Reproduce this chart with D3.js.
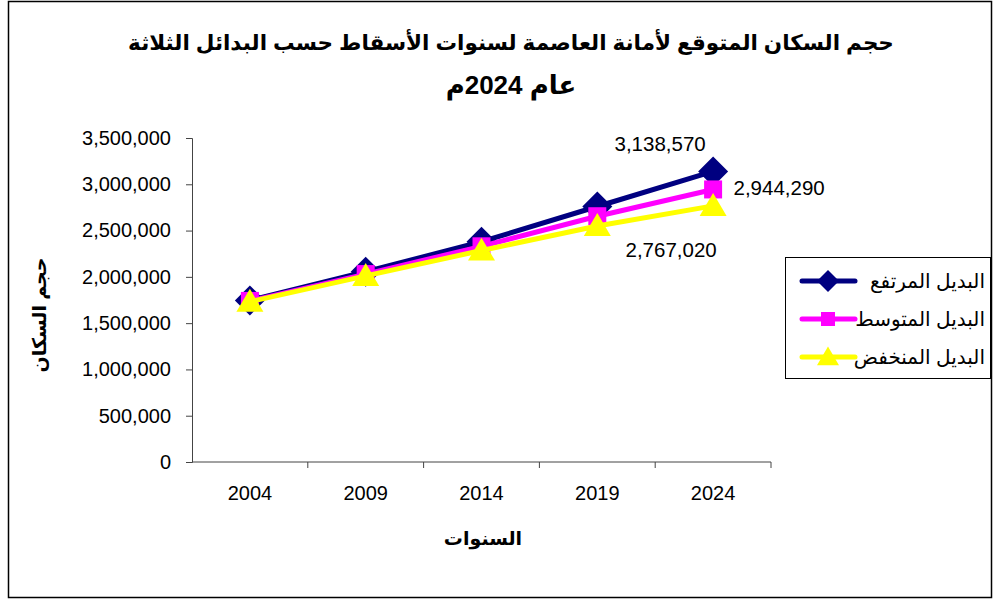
<!DOCTYPE html>
<html>
<head>
<meta charset="utf-8">
<script src="https://cdn.jsdelivr.net/npm/d3@7"></script>
<style>
  body { margin: 0; background: #fff; }
  svg text { font-family: "Liberation Sans", Arial, "DejaVu Sans", sans-serif; }
</style>
</head>
<body>
<div id="container"></div>
<script>
/**
 * DATA
 * */
const years = ["2004", "2009", "2014", "2019", "2024"];
const highValues = [1745000, 2055000, 2380000, 2760000, 3138570];
const midValues = [1740000, 2030000, 2330000, 2655000, 2944290];
const lowValues = [1732000, 2010000, 2285000, 2550000, 2767020];
const seriesNames = ["البديل المرتفع", "البديل المتوسط", "البديل المنخفض"];
const yTicks = [0, 500000, 1000000, 1500000, 2000000, 2500000, 3000000, 3500000];
const titleLines = ["حجم السكان المتوقع لأمانة العاصمة لسنوات الأسقاط حسب البدائل الثلاثة", "عام 2024م"];
const xTitle = "السنوات";
const yTitle = "حجم السكان";

/**
 * CONSTANTS
 * */
const width = 998,
  height = 601,
  plot = { left: 192, right: 771, top: 138, bottom: 462 };

const colors = ["#000080", "#ff00ff", "#ffff00"];

// marker shapes as path generators (r = scale factor)
const diamond = r => `M0,${-r}L${r},0L0,${r}L${-r},0Z`;
const square = r => `M${-r},${-r}H${r}V${r}H${-r}Z`;
const triangle = r => `M0,${-r * 0.95}L${r},${r * 0.75}H${-r}Z`;
const shapes = [diamond, square, triangle];
const plotSizes = [15, 9, 13.5];
const legendSizes = [11, 7, 11];

const series = [highValues, midValues, lowValues].map((vals, i) => ({
  name: seriesNames[i],
  color: colors[i],
  shape: shapes[i],
  size: plotSizes[i],
  lsize: legendSizes[i],
  values: vals.map((v, j) => ({ year: years[j], value: v }))
}));

const svg = d3.select("#container")
  .append("svg")
  .attr("width", width)
  .attr("height", height);

// outer frame
svg.append("rect")
  .attr("x", 8.5).attr("y", 1.5)
  .attr("width", 983).attr("height", 596)
  .attr("fill", "none")
  .attr("stroke", "#000")
  .attr("stroke-width", 1.5);

const xScale = d3.scaleBand()
  .domain(years)
  .range([plot.left, plot.right]);

const yScale = d3.scaleLinear()
  .domain([0, 3500000])
  .range([plot.bottom, plot.top]);

const fmt = d3.format(",");

// y axis
const yAxis = svg.append("g")
  .attr("transform", `translate(${plot.left},0)`)
  .call(d3.axisLeft(yScale).tickValues(yTicks).tickFormat(fmt).tickSize(6).tickPadding(15));
yAxis.selectAll("text").attr("font-size", 20).attr("fill", "#000")
  .style("font-family", "'Liberation Sans', Arial, sans-serif");
yAxis.selectAll("line, path").attr("stroke", "#444");

// x axis - ticks between categories
const xAxis = svg.append("g")
  .attr("transform", `translate(0,${plot.bottom})`);
xAxis.append("line")
  .attr("x1", plot.left).attr("x2", plot.right)
  .attr("stroke", "#444");
xAxis.selectAll("line.tick")
  .data(years)
  .join("line")
  .attr("class", "tick")
  .attr("x1", d => xScale(d) + xScale.bandwidth())
  .attr("x2", d => xScale(d) + xScale.bandwidth())
  .attr("y1", 0).attr("y2", 6)
  .attr("stroke", "#444");
xAxis.selectAll("text")
  .data(years)
  .join("text")
  .attr("x", d => xScale(d) + xScale.bandwidth() / 2)
  .attr("y", 38)
  .attr("text-anchor", "middle")
  .attr("font-size", 20)
  .text(d => d);

// titles
const titleSizes = [21.5, 26];
svg.selectAll("text.title")
  .data(titleLines)
  .join("text")
  .attr("class", "title")
  .attr("x", 511)
  .attr("y", (d, i) => 50 + i * 44)
  .attr("text-anchor", "middle")
  .attr("font-size", (d, i) => titleSizes[i])
  .attr("font-weight", "bold")
  .attr("direction", "rtl")
  .text(d => d);

svg.append("text")
  .attr("x", 483)
  .attr("y", 545)
  .attr("text-anchor", "middle")
  .attr("font-size", 19)
  .attr("font-weight", "bold")
  .text(xTitle);

svg.append("text")
  .attr("transform", "translate(46,315) rotate(-90)")
  .attr("text-anchor", "middle")
  .attr("font-size", 19)
  .attr("font-weight", "bold")
  .text(yTitle);

// lines + markers
const cx = d => xScale(d.year) + xScale.bandwidth() / 2;
const lineGen = d3.line()
  .x(cx)
  .y(d => yScale(d.value));

const groups = svg.selectAll("g.series")
  .data(series)
  .join("g")
  .attr("class", "series");

groups.append("path")
  .attr("d", d => lineGen(d.values))
  .attr("fill", "none")
  .attr("stroke", d => d.color)
  .attr("stroke-width", 5);

groups.each(function (s) {
  d3.select(this).selectAll("path.marker")
    .data(s.values)
    .join("path")
    .attr("class", "marker")
    .attr("transform", d => `translate(${cx(d)},${yScale(d.value)})`)
    .attr("d", s.shape(s.size))
    .attr("fill", s.color);
});

// data labels for last year
const last = years.length - 1;
const labelOffsets = [[-53, -20], [66, 6], [-42, 51]];
series.forEach((s, i) => {
  const d = s.values[last];
  svg.append("text")
    .attr("x", cx(d) + labelOffsets[i][0])
    .attr("y", yScale(d.value) + labelOffsets[i][1])
    .attr("text-anchor", "middle")
    .attr("font-size", 20.5)
    .text(fmt(d.value));
});

// legend
const legend = svg.append("g");
legend.append("rect")
  .attr("x", 785.5).attr("y", 257.5)
  .attr("width", 205).attr("height", 121)
  .attr("fill", "#fff")
  .attr("stroke", "#000");

const items = legend.selectAll("g.item")
  .data(series)
  .join("g")
  .attr("class", "item")
  .attr("transform", (d, i) => `translate(0,${281 + i * 38})`);

items.append("line")
  .attr("x1", 802).attr("x2", 855)
  .attr("stroke", d => d.color)
  .attr("stroke-width", 5)
  .attr("stroke-linecap", "round");
items.append("path")
  .attr("transform", "translate(828,0)")
  .attr("d", d => d.shape(d.lsize))
  .attr("fill", d => d.color);
items.append("text")
  .attr("x", 985)
  .attr("y", 7)
  .attr("text-anchor", "end")
  .attr("font-size", 20)
  .text(d => d.name);
</script>
</body>
</html>
